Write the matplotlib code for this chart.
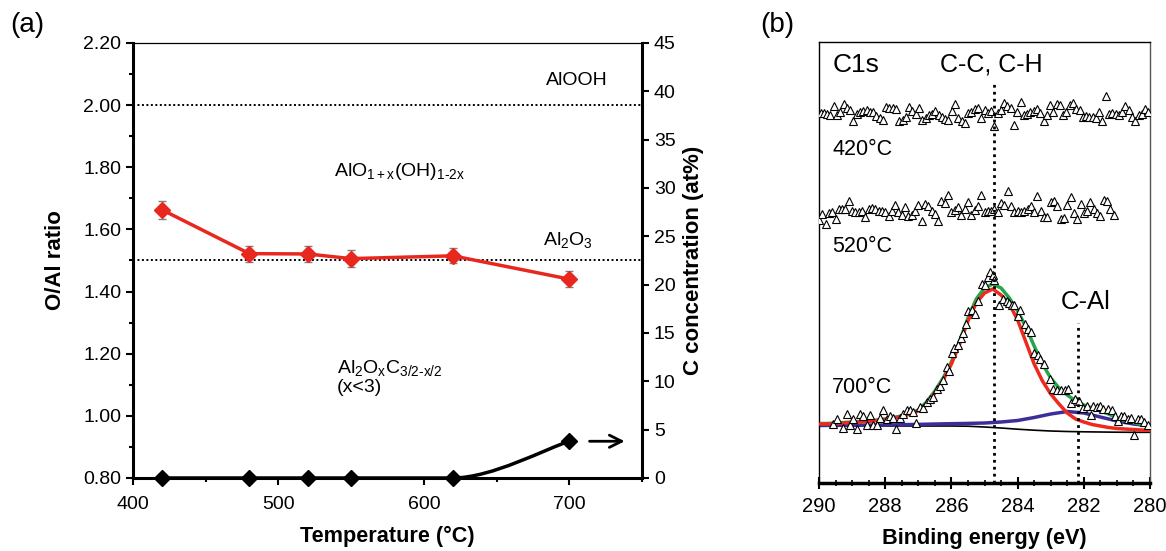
import numpy as np
import matplotlib
matplotlib.use('Agg')
import matplotlib.pyplot as plt
from matplotlib.path import Path
from matplotlib.patches import PathPatch
from matplotlib.ticker import MultipleLocator, FormatStrFormatter

plt.rcParams['font.family'] = ['Liberation Sans', 'DejaVu Sans']
plt.rcParams['mathtext.fontset'] = 'custom'
plt.rcParams['mathtext.rm'] = 'Liberation Sans'
plt.rcParams['mathtext.it'] = 'Liberation Sans:italic'

# ---------------- panel (a) data ----------------
temps = [420, 480, 520, 550, 620, 700]
o_al_ratio = [1.663, 1.522, 1.521, 1.506, 1.515, 1.440]
o_al_err = [0.028, 0.026, 0.026, 0.028, 0.024, 0.026]
c_conc = [0, 0, 0, 0, 0, 3.8]          # at%

ref_lines = [2.0, 1.5]                 # AlOOH, Al2O3

# ---------------- panel (b) data ----------------
# 420 C spectrum, offsets from its baseline (arb. units)
s420 = [0, 0, -1, -2, 7, -2, 1, 9, 5, 3, -8, -1, 1, 2, 3, 1, 1, -3, -5, -7,
        6, 5, 5, 4, -8, -7, -4, 6, 2, -1, 5, -7, -5, -2, -1, 2, -2, -4, -6, -7,
        2, 9, -5, -8, -10, 0, 1, 4, 5, -5, 3,
        0, 2, -13, 0, 3, 10, 7, 5, -12, 1, 11, -2, -1, 1, 2, 4, 0, -8, -2, 8,
        1, 9, 8, -2, 1, 8, 10, 4, 3, -4, -3, -4, -4, -5, 1, -8, 17, -1, 0, -1,
        -2, 1, 7, 3, -4, -8, -2, -1, 4, 1]
# 520 C spectrum, offsets from its baseline
s520 = [-7, -1, -11, 0, 1, -6, 4, 4, 4, 12, 2, 1, 1, 2, -4, 4, 5, 4, 2, 2,
        1, -3, 2, 8, 1, -2, 6, -3, -2, 2, 8, -8, 9, 7, 2, -1, -8, 12, 10, 18,
        1, 3, 6, -2, 4, 11, -2, 3, 7, 18, 1,
        2, 2, 4, 1, 10, 8, 22, 7, 1, 2, 1, 2, 4, 7, 1, 17, 2, -4, -4, 11,
        12, 7, -6, -5, 8, 16, 0, -6, 9, 0, 2, 11, 4, 0, -3, 13, 12, 4, -2]
base420 = 370
base520 = 270

# 700 C spectrum (binding energy, intensity)
e700 = [289.57, 289.47, 289.27, 289.16, 289.06, 288.96, 288.86, 288.76, 288.66,
        288.56, 288.46, 288.36, 288.26, 288.16, 288.06, 287.95, 287.85, 287.75,
        287.67, 287.55, 287.45, 287.35, 287.25, 287.15, 287.07, 286.95, 286.85,
        286.75, 286.65, 286.55, 286.44, 286.34, 286.24, 286.14, 286.07, 285.97,
        285.91, 285.81, 285.71, 285.64, 285.57, 285.49, 285.39, 285.29, 285.19,
        285.08, 284.98, 284.89, 284.83, 284.73, 284.70, 284.56, 284.43, 284.33,
        284.26, 284.18, 284.10, 284.00, 283.93, 283.78, 283.69, 283.59, 283.49,
        283.39, 283.32, 283.19, 283.02, 282.92, 282.82, 282.69, 282.57, 282.49,
        282.39, 282.27, 282.15, 282.01, 281.91, 281.78, 281.71, 281.61, 281.51,
        281.41, 281.27, 281.15, 281.07, 280.98, 280.88, 280.78, 280.67, 280.57,
        280.47, 280.37, 280.27, 280.17, 280.07]
i700 = [59.3, 64.3, 55.0, 69.3, 57.7, 64.3, 53.7, 69.3, 67.0, 57.7, 67.7, 57.7,
        57.7, 65.0, 72.7, 64.3, 67.0, 65.0, 54.3, 65.0, 69.3, 72.7, 72.7, 71.0,
        60.3, 76.0, 75.0, 81.0, 84.3, 86.0, 93.7, 97.0, 102.7, 116.0, 111.7,
        130.3, 135.0, 138.3, 145.0, 150.3, 159.3, 171.7, 172.7, 169.3, 181.7,
        199.3, 198.3, 206.0, 211.0, 207.7, 202.7, 178.3, 183.7, 181.7, 180.3,
        177.7, 178.3, 167.0, 172.7, 159.3, 154.3, 151.0, 130.3, 127.7, 123.7,
        119.3, 104.3, 93.7, 92.7, 92.7, 93.3, 93.7, 80.3, 83.7, 81.7, 75.0, 77.0,
        68.3, 77.0, 76.0, 77.0, 74.3, 74.3, 72.7, 67.0, 61.7, 67.0, 67.0, 64.3,
        65.0, 48.3, 64.3, 64.3, 61.0, 57.7]

# fitted components for the 700 C spectrum
e_fit = [290.0, 289.75, 289.5, 289.25, 289.0, 288.75, 288.5, 288.25, 288.0,
         287.75, 287.5, 287.25, 287.0, 286.75, 286.5, 286.25, 286.0, 285.75,
         285.5, 285.25, 285.0, 284.75, 284.5, 284.25, 284.0, 283.75, 283.5,
         283.25, 283.0, 282.75, 282.5, 282.25, 282.0, 281.75, 281.5, 281.25,
         281.0, 280.75, 280.5, 280.25, 280.0]
fit_cc = [59, 59, 59.5, 60, 60.5, 61, 61.5, 62.5, 63.5, 65, 66.5, 69, 72, 79,
          90, 103, 119, 139, 162, 180, 190, 194, 188, 179, 163, 141, 119, 102,
          89, 79, 70, 64, 61, 58.5, 57, 55.5, 54.5, 54, 53.5, 53, 52.7]
fit_sum = [59.5, 59.5, 60, 60.5, 61, 61.5, 62, 63, 64, 65.5, 67, 70, 73, 81,
           92, 105, 121, 142, 165, 184, 195, 199, 195, 185, 172, 156, 137, 119,
           105, 95, 88, 82, 78, 75, 72, 69, 65, 62.5, 60.5, 58.5, 57.5]
e_fit2 = [290.0, 289.0, 288.0, 287.5, 287.0, 286.5, 286.0, 285.5, 285.0,
          284.5, 284.0, 283.5, 283.0, 282.5, 282.0, 281.5, 281.0, 280.5, 280.0]
fit_cal = [57.5, 57.8, 58, 58.3, 58.6, 59, 59.3, 59.6, 60, 61, 62.5, 65.5, 69,
           71.5, 70, 66, 62, 59, 57]
fit_bg = [57, 57, 57, 57, 57, 57, 57, 56.8, 56, 55, 53.8, 52.8, 52, 51.5,
          51.2, 51, 50.8, 50.7, 50.7]

peak_cc = 284.7
peak_cal = 282.17

fig = plt.figure(figsize=(11.66, 5.51), dpi=100)

# ================= panel (a) =================
ax = fig.add_axes([0.1141, 0.1325, 0.4365, 0.7895])
ax2 = ax.twinx()

ax.set_xlim(400, 750)
ax.set_ylim(0.8, 2.2)
ax2.set_ylim(0, 45)

for y in ref_lines:
    ax.axhline(y, color='k', lw=1.4, ls=(0, (1, 1.3)), zorder=1)

ax.errorbar(temps, o_al_ratio, yerr=o_al_err, color='#e8281e', marker='D',
            ms=8, lw=2.5, ecolor='#7f7f7f', elinewidth=1, capsize=3,
            capthick=1, zorder=3)

# carbon line: straight along zero, then a smooth rise to the last point
pts = np.column_stack([temps, c_conc]).astype(float)
verts = [pts[0]]
codes = [Path.MOVETO]
for i in range(len(pts) - 1):
    p1, p2 = pts[i], pts[i + 1]
    if p1[1] == p2[1]:
        verts.append(p2)
        codes.append(Path.LINETO)
    else:
        c1 = np.array([p1[0] + (p2[0] - p1[0]) / 3, p1[1]])
        c2 = p2 - (p2 - p1) / 5
        verts += [c1, c2, p2]
        codes += [Path.CURVE4] * 3
ax2.add_patch(PathPatch(Path(verts, codes), fc='none', ec='k', lw=2.5,
                        clip_on=False, zorder=4))
ax2.plot(temps, c_conc, ls='none', marker='D', ms=8, color='k',
         clip_on=False, zorder=5)
ax2.annotate('', xy=(740, 3.8), xytext=(712, 3.8),
             arrowprops=dict(arrowstyle='->', lw=2, color='k',
                             mutation_scale=22))

ax.xaxis.set_major_locator(MultipleLocator(100))
ax.xaxis.set_minor_locator(MultipleLocator(50))
ax.yaxis.set_major_locator(MultipleLocator(0.2))
ax.yaxis.set_minor_locator(MultipleLocator(0.1))
ax.yaxis.set_major_formatter(FormatStrFormatter('%.2f'))
ax2.yaxis.set_major_locator(MultipleLocator(5))

for a in (ax, ax2):
    a.tick_params(which='major', direction='out', length=5, width=1.5,
                  labelsize=14)
    a.tick_params(which='minor', direction='out', length=3, width=1.5)
ax.tick_params(axis='x', pad=8)

ax.spines['top'].set_linewidth(0.9)
ax.spines['left'].set_linewidth(2.2)
ax.spines['bottom'].set_linewidth(2.2)
ax.spines['right'].set_visible(False)
for s in ('left', 'bottom', 'top'):
    ax2.spines[s].set_visible(False)
ax2.spines['right'].set_linewidth(2.2)

ax.set_xlabel('Temperature (°C)', fontsize=15.6, fontweight='bold',
              labelpad=9)
ax.set_ylabel('O/Al ratio', fontsize=16, fontweight='bold', labelpad=12)
ax2.set_ylabel('C concentration (at%)', fontsize=16, fontweight='bold',
               labelpad=5)

ax.text(705, 2.08, 'AlOOH', fontsize=14, ha='center', va='center')
ax.text(538, 1.785, r'AlO$_{\mathregular{1+x}}$(OH)$_{\mathregular{1\text{-}2x}}$',
        fontsize=14, ha='left', va='center')
ax.text(699, 1.565, r'Al$_{\mathregular{2}}$O$_{\mathregular{3}}$',
        fontsize=14, ha='center', va='center')
ax.text(540, 1.125,
        'Al$_{\\mathregular{2}}$O$_{\\mathregular{x}}$C$_{\\mathregular{3/2\\text{-}x/2}}$\n(x<3)',
        fontsize=14, ha='left', va='center', linespacing=1.1)

fig.text(0.023, 0.955, '(a)', fontsize=20, ha='center', va='center')

# ================= panel (b) =================
bx = fig.add_axes([0.7024, 0.1234, 0.2839, 0.8004])
bx.set_xlim(290, 280)
bx.set_ylim(0, 441)

e420 = np.linspace(289.95, 280.05, len(s420))
e520 = np.linspace(290.0, 281.1, len(s520))
tri = dict(ls='none', marker='^', mfc='white', mec='k', ms=6, mew=0.8,
           zorder=4)
bx.plot(e420, base420 + np.array(s420), **tri)
bx.plot(e520, base520 + np.array(s520), **tri)

bx.plot(e_fit2, fit_bg, color='k', lw=1.2, zorder=2)
bx.plot(e_fit2, fit_cal, color='#3b2e9a', lw=2.5, zorder=2)
bx.plot(e_fit, fit_sum, color='#22a84a', lw=2.5, zorder=2)
bx.plot(e_fit, fit_cc, color='#ee2a1c', lw=2.5, zorder=3)
bx.plot(e700, i700, **tri)

bx.plot([peak_cc, peak_cc], [0, 400], color='k', lw=2, ls=(0, (1, 1.5)),
        zorder=5)
bx.plot([peak_cal, peak_cal], [0, 160], color='k', lw=2, ls=(0, (1, 1.5)),
        zorder=5)

bx.text(289.6, 418, 'C1s', fontsize=19, ha='left', va='center')
bx.text(284.8, 418, 'C-C, C-H', fontsize=18, ha='center', va='center')
bx.text(289.6, 333, '420°C', fontsize=15.5, ha='left', va='center')
bx.text(289.6, 236, '520°C', fontsize=15.5, ha='left', va='center')
bx.text(289.6, 96, '700°C', fontsize=15.5, ha='left', va='center')
bx.text(281.93, 181, 'C-Al', fontsize=18.5, ha='center', va='center')

bx.set_yticks([])
bx.xaxis.set_major_locator(MultipleLocator(2))
bx.xaxis.set_minor_locator(MultipleLocator(0.5))
bx.tick_params(axis='x', which='major', direction='inout', length=8,
               width=1.5, labelsize=14.5, pad=6)
bx.tick_params(axis='x', which='minor', direction='inout', length=5,
               width=1.2)
for s in ('left', 'top', 'right'):
    bx.spines[s].set_linewidth(1.0)
bx.spines['right'].set_color('#555555')
bx.spines['bottom'].set_linewidth(2.5)
bx.set_xlabel('Binding energy (eV)', fontsize=15.6, fontweight='bold',
              labelpad=9)

fig.text(0.667, 0.955, '(b)', fontsize=20, ha='center', va='center')

fig.savefig('out.png', dpi=100)
